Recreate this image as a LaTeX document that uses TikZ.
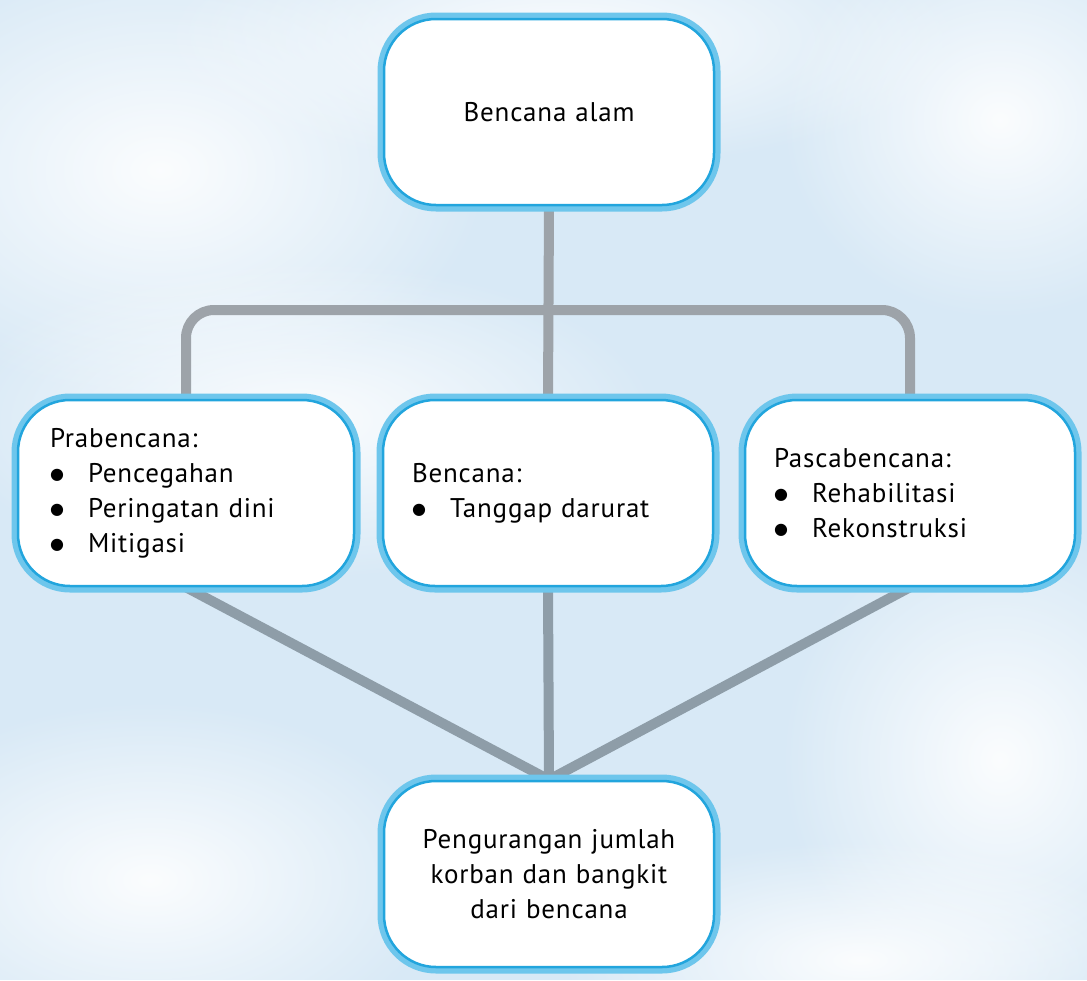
\documentclass[tikz,border=0pt]{standalone}
\usepackage{fontspec}
\setmainfont{PT Sans}[WordSpace=2,LetterSpace=3]
\newfontfamily\symfont{DejaVu Sans}
\usetikzlibrary{fadings}
\definecolor{sky}{HTML}{D8E9F6}
\definecolor{boxout}{HTML}{6EC6EC}
\definecolor{boxin}{HTML}{22A5DD}
\definecolor{bargray}{HTML}{9DA3A9}
\definecolor{linkgray}{HTML}{8E9DA8}
\tikzfading[name=puff, inner color=transparent!0, outer color=transparent!100]
\pgfdeclarelayer{back}
\pgfsetlayers{back,main}
\newcommand{\butir}[1]{\makebox[38pt][l]{\raisebox{3pt}{\symfont\fontsize{16}{16}\selectfont ●}}#1}

\begin{document}
\begin{tikzpicture}[x=1pt,y=-1pt,
  box/.style={rectangle, rounded corners=52pt, fill=white, draw=boxin, line width=2.5pt,
    preaction={draw=boxout, line width=13pt}, minimum width=330pt, minimum height=186pt,
    text width=272pt, align=left, font=\fontsize{27}{35}\selectfont},
  bar/.style={draw=bargray, line width=10pt},
  link/.style={draw=linkgray, line width=10pt},
  cloud/.style={fill=white, path fading=puff, opacity=0.9}]
  \useasboundingbox (0,0) rectangle (1087,980);
  \node[box, align=center] (alam) at (549,112) {Bencana alam};
  \node[box, minimum width=336pt] (pra) at (186,493)
    {Prabencana:\\\butir{Pencegahan}\\\butir{Peringatan dini}\\\butir{Mitigasi}};
  \node[box] (saat) at (548,493) {Bencana:\\\butir{Tanggap darurat}};
  \node[box] (pasca) at (910,493)
    {Pascabencana:\\\butir{Rehabilitasi}\\\butir{Rekonstruksi}};
  \node[box, align=center] (hasil) at (549,874)
    {Pengurangan jumlah\\korban dan bangkit\\dari bencana};
  \coordinate (hub) at (548,310);
  \begin{pgfonlayer}{back}
    \fill[sky] (0,0) rectangle (1087,980);
    \fill[cloud] (160,170) ellipse (330 and 230);
    \fill[cloud] (560,40) ellipse (400 and 130);
    \fill[cloud] (1000,120) ellipse (220 and 200);
    \fill[cloud] (300,420) ellipse (360 and 160);
    \fill[cloud] (150,880) ellipse (300 and 180);
    \fill[cloud] (1000,760) ellipse (220 and 240);
    \fill[cloud] (860,960) ellipse (300 and 120);
    \draw[bar] (alam.south) -- (saat.north);
    \draw[bar, rounded corners=28pt] (pra.north) |- (hub) -| (pasca.north);
    \draw[link] (pra.south) -- (hasil.north);
    \draw[link] (saat.south) -- (hasil.north);
    \draw[link] (pasca.south) -- (hasil.north);
  \end{pgfonlayer}
\end{tikzpicture}
\end{document}
